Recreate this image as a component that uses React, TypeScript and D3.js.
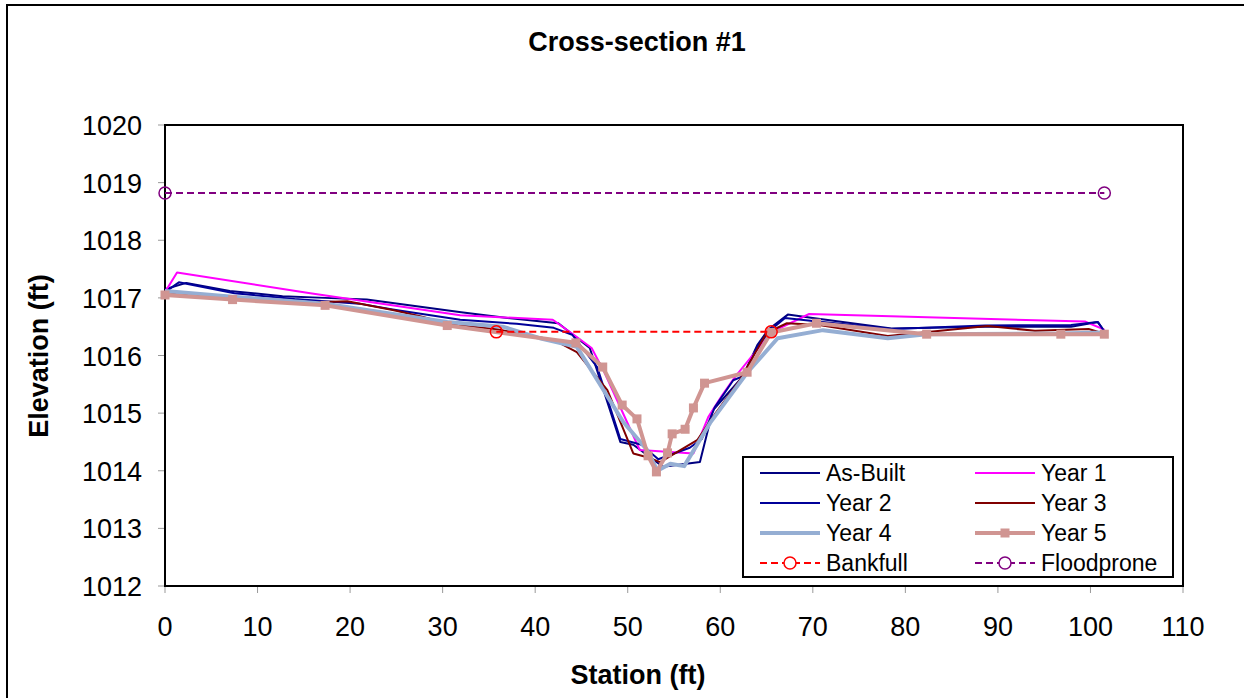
import React, { useRef, useEffect } from 'react';
import * as d3 from 'd3';

type Pt = [number, number];

// station (ft), elevation (ft)
const asBuilt: Pt[] = [[0, 1017.15], [2.3, 1017.26], [7, 1017.12], [12.7, 1017.03], [17.3, 1017.0], [21.8, 1016.97], [32, 1016.75], [37, 1016.65], [42.5, 1016.56], [45.9, 1016.13], [49.2, 1014.5], [50.6, 1014.45], [53.8, 1014.07], [57.8, 1014.15], [59.2, 1015.05], [62.4, 1015.63], [64, 1016.18], [65.2, 1016.45], [67.3, 1016.71], [70, 1016.65], [78.5, 1016.47], [88.6, 1016.5], [97.9, 1016.5], [100.8, 1016.58], [101.5, 1016.42]];
const year1: Pt[] = [[0, 1017.1], [1.3, 1017.44], [15.7, 1017.08], [31.9, 1016.7], [41.9, 1016.62], [44.5, 1016.32], [46.1, 1016.13], [47.5, 1015.7], [51.3, 1014.36], [54.2, 1014.33], [57.1, 1014.3], [58.7, 1014.93], [60.2, 1015.31], [61.6, 1015.63], [65.5, 1016.4], [69.6, 1016.72], [99.4, 1016.59], [101.5, 1016.45]];
const year2: Pt[] = [[0, 1017.1], [1.5, 1017.27], [7.5, 1017.08], [14, 1016.98], [21, 1016.9], [24.6, 1016.8], [31.9, 1016.62], [38, 1016.55], [42, 1016.48], [44, 1016.36], [46.7, 1015.8], [49.2, 1014.55], [51.5, 1014.45], [53.3, 1014.2], [56.7, 1014.4], [58, 1014.55], [59.4, 1015.1], [61.4, 1015.57], [62.6, 1015.65], [64, 1016.15], [65.5, 1016.45], [67, 1016.65], [70, 1016.6], [78.5, 1016.46], [88.6, 1016.52], [97.9, 1016.53], [100.8, 1016.58], [101.5, 1016.42]];
const year3: Pt[] = [[0, 1017.1], [7, 1017.0], [13.8, 1016.91], [19.7, 1016.94], [24.6, 1016.79], [27.9, 1016.67], [30.5, 1016.55], [36, 1016.45], [42, 1016.27], [44.5, 1016.06], [47.8, 1015.4], [50.6, 1014.3], [52.4, 1014.22], [53.5, 1014.15], [57.5, 1014.53], [59.5, 1015.0], [62.1, 1015.57], [65, 1016.39], [67.2, 1016.56], [70.7, 1016.53], [78.1, 1016.34], [88.9, 1016.51], [94, 1016.43], [99.8, 1016.46], [101.5, 1016.38]];
const year4: Pt[] = [[0, 1017.12], [7.3, 1017.02], [17.3, 1016.9], [27.5, 1016.65], [30.5, 1016.58], [36.5, 1016.5], [40.5, 1016.3], [44.5, 1016.15], [49.5, 1014.85], [52.1, 1014.36], [53.2, 1014.0], [54.6, 1014.12], [56.1, 1014.08], [58.9, 1014.83], [62.9, 1015.7], [66.2, 1016.3], [71.1, 1016.44], [78.1, 1016.3], [82.3, 1016.37], [96.8, 1016.38], [101.5, 1016.4]];
const year5: Pt[] = [[0, 1017.05], [7.3, 1016.97], [17.3, 1016.87], [30.5, 1016.52], [44.4, 1016.22], [47.3, 1015.8], [49.4, 1015.14], [51.0, 1014.9], [52.2, 1014.26], [53.1, 1013.98], [54.3, 1014.31], [54.8, 1014.64], [56.2, 1014.72], [57.1, 1015.09], [58.3, 1015.52], [62.9, 1015.71], [65.5, 1016.4], [70.4, 1016.56], [82.3, 1016.37], [96.8, 1016.37], [101.5, 1016.37]];
const bankfull: Pt[] = [[35.8, 1016.41], [65.5, 1016.41]];
const floodprone: Pt[] = [[0, 1018.82], [101.5, 1018.82]];

const xTicks = [0, 10, 20, 30, 40, 50, 60, 70, 80, 90, 100, 110];
const yTicks = [1012, 1013, 1014, 1015, 1016, 1017, 1018, 1019, 1020];

const series = [
  { name: 'As-Built', data: asBuilt, color: '#000080', width: 2 },
  { name: 'Year 1', data: year1, color: '#FF00FF', width: 2 },
  { name: 'Year 2', data: year2, color: '#000099', width: 2 },
  { name: 'Year 3', data: year3, color: '#800000', width: 2 },
  { name: 'Year 4', data: year4, color: '#95AED3', width: 4 },
  { name: 'Year 5', data: year5, color: '#D09592', width: 4, square: true },
  { name: 'Bankfull', data: bankfull, color: '#FF0000', width: 2, dash: true, circle: true },
  { name: 'Floodprone', data: floodprone, color: '#800080', width: 2, dash: true, circle: true },
];

const App = () => {
  const svgRef = useRef<SVGSVGElement>(null);

  useEffect(() => {
    const width = 1244;
    const height = 698;
    const left = 165, right = 1183, top = 125, bottom = 586;
    const font = 'Arial, "Liberation Sans", sans-serif';

    const svg = d3.select(svgRef.current)
      .attr('width', width)
      .attr('height', height)
      .style('display', 'block')
      .style('position', 'absolute')
      .style('left', '0px')
      .style('top', '0px');
    svg.selectAll('*').remove();

    svg.append('rect').attr('width', width).attr('height', height).attr('fill', '#fff');
    // outer chart border
    svg.append('rect')
      .attr('x', 7).attr('y', 5).attr('width', 1260).attr('height', 720)
      .attr('fill', 'none').attr('stroke', '#000').attr('stroke-width', 2);

    const x = d3.scaleLinear().domain([0, 110]).range([left, right]);
    const y = d3.scaleLinear().domain([1012, 1020]).range([bottom, top]);

    // tick marks
    svg.append('g').selectAll('line').data(yTicks).enter().append('line')
      .attr('x1', left - 7).attr('x2', left)
      .attr('y1', d => y(d)).attr('y2', d => y(d))
      .attr('stroke', '#999').attr('stroke-width', 1);
    svg.append('g').selectAll('line').data(xTicks).enter().append('line')
      .attr('y1', bottom).attr('y2', bottom + 7)
      .attr('x1', d => x(d)).attr('x2', d => x(d))
      .attr('stroke', '#999').attr('stroke-width', 1);

    // tick labels
    svg.append('g').selectAll('text').data(yTicks).enter().append('text')
      .attr('x', 142).attr('y', d => y(d) + 10)
      .attr('text-anchor', 'end')
      .style('font-family', font).style('font-size', '27px')
      .text(d => d);
    svg.append('g').selectAll('text').data(xTicks).enter().append('text')
      .attr('x', d => x(d)).attr('y', 636)
      .attr('text-anchor', 'middle')
      .style('font-family', font).style('font-size', '27px')
      .text(d => d);

    // plot frame
    svg.append('rect')
      .attr('x', left).attr('y', top).attr('width', right - left).attr('height', bottom - top)
      .attr('fill', 'none').attr('stroke', '#000').attr('stroke-width', 2);

    const line = d3.line<Pt>().x(d => x(d[0])).y(d => y(d[1]));

    const g = svg.append('g');
    series.forEach(s => {
      g.append('path')
        .attr('d', line(s.data))
        .attr('fill', 'none')
        .attr('stroke', s.color)
        .attr('stroke-width', s.width)
        .attr('stroke-linejoin', 'round')
        .attr('stroke-dasharray', s.dash ? '7,4' : null);
      if (s.square) {
        g.selectAll(null).data(s.data).enter().append('rect')
          .attr('x', d => x(d[0]) - 4.5).attr('y', d => y(d[1]) - 4.5)
          .attr('width', 9).attr('height', 9)
          .attr('fill', s.color);
      }
      if (s.circle) {
        g.selectAll(null).data(s.data).enter().append('circle')
          .attr('cx', d => x(d[0])).attr('cy', d => y(d[1])).attr('r', 6)
          .attr('fill', 'none').attr('stroke', s.color).attr('stroke-width', 1.5);
      }
    });

    // titles
    svg.append('text')
      .attr('x', 637).attr('y', 51).attr('text-anchor', 'middle')
      .style('font-family', font).style('font-size', '27px').style('font-weight', 'bold')
      .text('Cross-section #1');
    svg.append('text')
      .attr('x', 638).attr('y', 684).attr('text-anchor', 'middle')
      .style('font-family', font).style('font-size', '27px').style('font-weight', 'bold')
      .text('Station (ft)');
    svg.append('text')
      .attr('transform', 'translate(48,356) rotate(-90)').attr('text-anchor', 'middle')
      .style('font-family', font).style('font-size', '27px').style('font-weight', 'bold')
      .text('Elevation (ft)');

    // legend
    const lg = svg.append('g');
    lg.append('rect')
      .attr('x', 743).attr('y', 457).attr('width', 430).attr('height', 120)
      .attr('fill', '#fff').attr('stroke', '#000').attr('stroke-width', 2);
    series.forEach((s, i) => {
      const col = i % 2;
      const row = Math.floor(i / 2);
      const lx = col === 0 ? 760 : 975;
      const ly = 473 + row * 30;
      lg.append('line')
        .attr('x1', lx).attr('x2', lx + 60).attr('y1', ly).attr('y2', ly)
        .attr('stroke', s.color).attr('stroke-width', s.width)
        .attr('stroke-dasharray', s.dash ? '7,4' : null);
      if (s.square) {
        lg.append('rect').attr('x', lx + 25.5).attr('y', ly - 4.5).attr('width', 9).attr('height', 9).attr('fill', s.color);
      }
      if (s.circle) {
        lg.append('circle').attr('cx', lx + 30).attr('cy', ly).attr('r', 6)
          .attr('fill', '#fff').attr('stroke', s.color).attr('stroke-width', 1.5);
      }
      lg.append('text')
        .attr('x', lx + 66).attr('y', ly + 8)
        .style('font-family', font).style('font-size', '23px')
        .text(s.name);
    });
  }, []);

  return <svg ref={svgRef}></svg>;
};

export default App;
